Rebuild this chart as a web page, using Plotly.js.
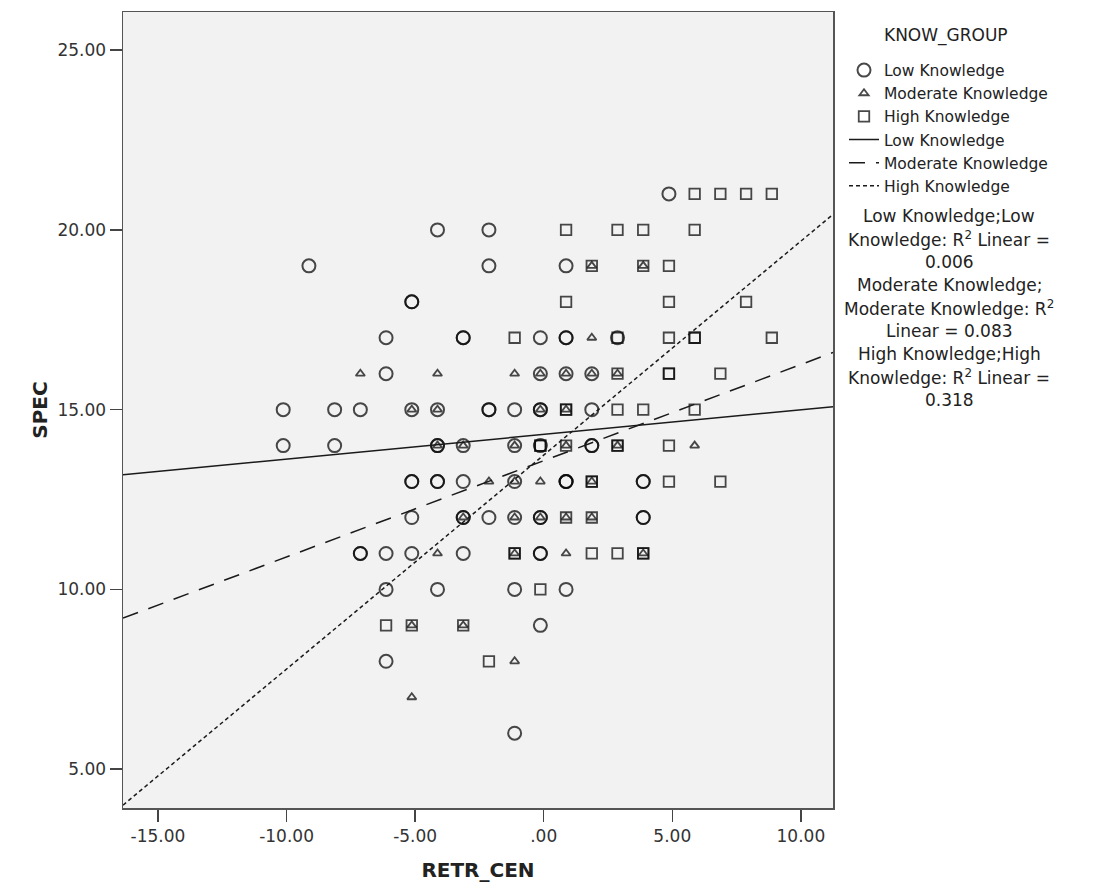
<!DOCTYPE html>
<html>
<head>
<meta charset="utf-8">
<script src="https://cdn.plot.ly/plotly-3.0.1.min.js"></script>
<style>html,body{margin:0;padding:0;background:#fff;}#chart{width:1099px;height:890px;}</style>
</head>
<body>
<div id="chart"></div>
<script>
// ---- data ----
var groupNames = ["Low Knowledge", "Moderate Knowledge", "High Knowledge"];
var legendTitle = "KNOW_GROUP";

var lowX = [4.87,
  -4.13, -2.13,
  -9.13, -2.13, 0.87,
  -5.13, -5.13,
  -6.13, -3.13, -3.13, -0.13, 0.87, 0.87, 2.87,
  -6.13, -0.13, 0.87, 1.87,
  -10.13, -8.13, -7.13, -5.13, -4.13, -2.13, -2.13, -1.13, -0.13, -0.13, 1.87,
  -10.13, -8.13, -4.13, -4.13, -3.13, -1.13, -0.13, 1.87, 1.87,
  -5.13, -5.13, -4.13, -4.13, -3.13, -1.13, 0.87, 0.87, 0.87, 3.87, 3.87,
  -5.13, -3.13, -3.13, -2.13, -1.13, -0.13, -0.13, 3.87, 3.87,
  -7.13, -7.13, -6.13, -5.13, -3.13, -0.13, -0.13,
  -6.13, -4.13, -1.13, 0.87,
  -0.13,
  -6.13,
  -1.13];
var lowY = [21,
  20, 20,
  19, 19, 19,
  18, 18,
  17, 17, 17, 17, 17, 17, 17,
  16, 16, 16, 16,
  15, 15, 15, 15, 15, 15, 15, 15, 15, 15, 15,
  14, 14, 14, 14, 14, 14, 14, 14, 14,
  13, 13, 13, 13, 13, 13, 13, 13, 13, 13, 13,
  12, 12, 12, 12, 12, 12, 12, 12, 12,
  11, 11, 11, 11, 11, 11, 11,
  10, 10, 10, 10,
  9,
  8,
  6];

var modX = [1.87, 3.87,
  1.87,
  -7.13, -4.13, -1.13, -0.13, 0.87, 1.87, 2.87,
  -5.13, -4.13, -0.13, 0.87,
  -4.13, -3.13, -1.13, 0.87, 2.87, 5.87,
  -2.13, -1.13, -0.13, 1.87,
  -3.13, -1.13, -0.13, 0.87, 1.87,
  -4.13, -1.13, 0.87, 3.87,
  -5.13, -3.13,
  -1.13,
  -5.13];
var modY = [19, 19,
  17,
  16, 16, 16, 16, 16, 16, 16,
  15, 15, 15, 15,
  14, 14, 14, 14, 14, 14,
  13, 13, 13, 13,
  12, 12, 12, 12, 12,
  11, 11, 11, 11,
  9, 9,
  8,
  7];

var highX = [5.87, 6.87, 7.87, 8.87,
  0.87, 2.87, 3.87, 5.87,
  1.87, 3.87, 4.87,
  0.87, 4.87, 7.87,
  -1.13, 2.87, 4.87, 5.87, 5.87, 8.87,
  2.87, 4.87, 4.87, 6.87,
  0.87, 0.87, 2.87, 3.87, 5.87,
  -0.13, -0.13, 0.87, 2.87, 2.87, 4.87,
  1.87, 1.87, 4.87, 6.87,
  0.87, 1.87,
  -1.13, -1.13, 1.87, 2.87, 3.87, 3.87,
  -0.13,
  -6.13, -5.13, -3.13,
  -2.13];
var highY = [21, 21, 21, 21,
  20, 20, 20, 20,
  19, 19, 19,
  18, 18, 18,
  17, 17, 17, 17, 17, 17,
  16, 16, 16, 16,
  15, 15, 15, 15, 15,
  14, 14, 14, 14, 14, 14,
  13, 13, 13, 13,
  12, 12,
  11, 11, 11, 11, 11, 11,
  10,
  9, 9, 9,
  8];

// fit lines (end points read at the plot edges)
var lowFitX = [-16.36, 11.25];
var lowFitY = [13.19, 15.08];
var modFitX = [-16.36, 11.25];
var modFitY = [9.20, 16.59];
var highFitX = [-16.36, 11.25];
var highFitY = [4.00, 20.43];

var r2Lines = ["Low Knowledge;Low", "Knowledge: R<sup>2</sup> Linear =", "0.006",
  "Moderate Knowledge;", "Moderate Knowledge: R<sup>2</sup>", "Linear = 0.083",
  "High Knowledge;High", "Knowledge: R<sup>2</sup> Linear =", "0.318"];

var xTickVals = [-15, -10, -5, 0, 5, 10];
var xTickText = ["-15.00", "-10.00", "-5.00", ".00", "5.00", "10.00"];
var yTickVals = [5, 10, 15, 20, 25];
var yTickText = ["5.00", "10.00", "15.00", "20.00", "25.00"];

// ---- layout constants ----
var W = 1099, H = 890, L = 123, R = 266, T = 12, B = 82;
var PW = W - L - R, PH = H - T - B;
function px(x) { return (x - L) / PW; }
function py(y) { return (H - B - y) / PH; }
var FONT = "DejaVu Sans";
var markCol = "rgba(10,10,10,0.74)";
var lineCol = "#1a1a1a";

var traces = [
  {x: lowX, y: lowY, type: "scatter", mode: "markers", name: groupNames[0], legendgroup: "a",
   marker: {symbol: "circle-open", size: 13, color: markCol, line: {width: 2}}},
  {x: modX, y: modY, type: "scatter", mode: "markers", name: groupNames[1], legendgroup: "b",
   marker: {symbol: "triangle-up-open", size: 8, color: markCol, line: {width: 1.8}}},
  {x: highX, y: highY, type: "scatter", mode: "markers", name: groupNames[2], legendgroup: "c",
   marker: {symbol: "square-open", size: 10.5, color: markCol, line: {width: 1.8}}},
  {x: lowFitX, y: lowFitY, type: "scatter", mode: "lines", name: groupNames[0], legendgroup: "d",
   line: {color: lineCol, width: 1.5}},
  {x: modFitX, y: modFitY, type: "scatter", mode: "lines", name: groupNames[1], legendgroup: "e",
   line: {color: lineCol, width: 1.5, dash: "16px,11px"}},
  {x: highFitX, y: highFitY, type: "scatter", mode: "lines", name: groupNames[2], legendgroup: "f",
   line: {color: lineCol, width: 1.5, dash: "4px,3px"}}
];

var annotations = [{xref: "paper", yref: "paper", x: px(946), y: py(35),
  xanchor: "center", yanchor: "middle", showarrow: false, text: legendTitle,
  font: {family: FONT, size: 17, color: "#222"}}];
var r2Y = [216, 239, 262, 285, 308, 331, 354, 377, 400];
for (var i = 0; i < r2Lines.length; i++) {
  annotations.push({xref: "paper", yref: "paper", x: px(949), y: py(r2Y[i]),
    xanchor: "center", yanchor: "middle", showarrow: false, text: r2Lines[i],
    font: {family: FONT, size: 17, color: "#222"}});
}

var layout = {
  width: W, height: H,
  margin: {l: L, r: R, t: T, b: B},
  paper_bgcolor: "#ffffff",
  plot_bgcolor: "#f2f2f2",
  showlegend: true,
  xaxis: {
    range: [-16.36, 11.25], tickvals: xTickVals, ticktext: xTickText,
    ticks: "outside", ticklen: 12, tickwidth: 1.5, tickcolor: "#444",
    showline: true, linecolor: "#555", linewidth: 1.5, mirror: true,
    showgrid: false, zeroline: false,
    tickfont: {family: FONT, size: 17, color: "#333"},
    title: {text: "<b>RETR_CEN</b>", font: {family: FONT, size: 20, color: "#222"}, standoff: 18}
  },
  yaxis: {
    range: [3.92, 26.06], tickvals: yTickVals, ticktext: yTickText,
    ticks: "outside", ticklen: 12, tickwidth: 1.5, tickcolor: "#444",
    showline: true, linecolor: "#555", linewidth: 1.5, mirror: true,
    showgrid: false, zeroline: false,
    tickfont: {family: FONT, size: 17, color: "#333"},
    title: {text: "<b>SPEC</b>", font: {family: FONT, size: 20, color: "#222"}, standoff: 4}
  },
  legend: {
    x: px(844), xanchor: "left", y: py(53.5), yanchor: "top",
    bgcolor: "rgba(0,0,0,0)", borderwidth: 0,
    font: {family: FONT, size: 15.5, color: "#222"},
    tracegroupgap: 0, itemwidth: 30, traceorder: "normal"
  },
  annotations: annotations
};

Plotly.newPlot("chart", traces, layout, {displayModeBar: false, staticPlot: true});
</script>
</body>
</html>
